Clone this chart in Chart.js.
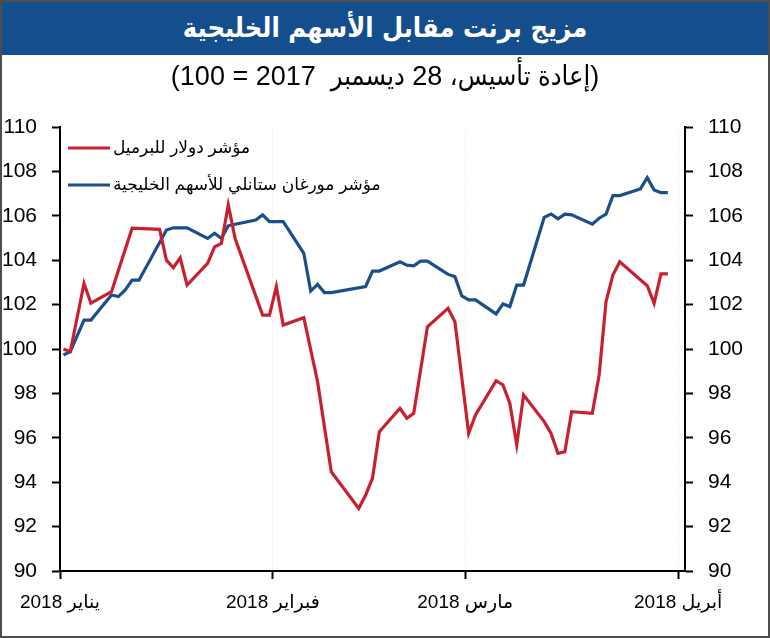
<!DOCTYPE html>
<html>
<head>
<meta charset="utf-8">
<script src="https://cdn.jsdelivr.net/npm/chart.js@4.4.1/dist/chart.umd.min.js"></script>
<style>
  body { margin: 0; background: #fff; }
  #wrap { position: relative; width: 770px; height: 638px; }
  #chart { position: absolute; left: 0; top: 0; }
  #banner { position: absolute; left: 0; top: 2px; width: 770px; height: 53px; background: #144e8c;
    color: #fff; font: bold 27px "DejaVu Sans Condensed", "DejaVu Sans", sans-serif; text-align: center; line-height: 52px; }
  #sub { position: absolute; left: 0; top: 60px; width: 770px; text-align: center; color: #000;
    font: 27px "Liberation Sans", "DejaVu Sans Condensed", sans-serif; white-space: pre; }
  #frame { position: absolute; left: 0; top: 0; width: 770px; height: 638px; box-sizing: border-box;
    border: 2px solid #4d4d4d; pointer-events: none; }
</style>
</head>
<body>
<div id="wrap">
  <canvas id="chart" width="770" height="638" dir="rtl"></canvas>
  <div id="banner" dir="rtl">مزيج برنت مقابل الأسهم الخليجية</div>
  <div id="sub" dir="rtl">(إعادة تأسيس، 28 ديسمبر  2017 = 100)</div>
  <div id="frame"></div>
</div>
<script>
// days counted from 1 Jan 2018 (0 = 1 Jan)
const monthStarts = [0, 31, 59, 90];
const monthLabels = ['يناير 2018', 'فبراير 2018', 'مارس 2018', 'أبريل 2018'];
const seriesNames = ['مؤشر دولار للبرميل', 'مؤشر مورغان ستانلي للأسهم الخليجية'];

const brentDays = [0, 1, 3, 4, 7, 10, 14, 15, 16, 17, 18, 21, 22, 23, 24, 25, 29, 30, 31, 32, 35, 37, 39, 43, 44, 45, 46,
  49, 50, 51, 53, 56, 57, 59, 60, 63, 64, 65, 66, 67, 70, 71, 72, 73, 74, 77, 78, 79, 80, 81, 85, 86, 87, 88];
const brentValues = [100.0, 99.88, 102.96, 102.06, 102.58, 105.44, 105.39, 104.0, 103.66, 104.11, 102.88, 103.86, 104.6,
  104.76, 106.49, 104.98, 101.53, 101.53, 102.81, 101.08, 101.41, 98.53, 94.47, 92.82, 93.42, 94.18, 96.27,
  97.33, 96.88, 97.1, 101.0, 101.83, 101.23, 96.2, 97.03, 98.57, 98.38, 97.55, 95.68, 97.93, 96.73, 96.2, 95.3,
  95.37, 97.18, 97.1, 98.83, 102.13, 103.33, 103.93, 102.85, 102.06, 103.38, 103.38];

const gccDays = [0, 1, 3, 4, 7, 8, 9, 10, 11, 15, 16, 18, 21, 22, 23, 24, 25, 28, 29, 30, 32, 35, 36, 37, 38, 39, 44, 45,
  46, 49, 50, 51, 52, 53, 56, 57, 58, 59, 60, 63, 64, 65, 66, 67, 70, 71, 72, 73, 74, 77, 78, 79, 80, 81, 84, 85, 86, 87, 88];
const gccValues = [99.73, 99.88, 101.3, 101.3, 102.43, 102.36, 102.66, 103.1, 103.1, 105.36, 105.46, 105.46, 104.98,
  105.21, 104.98, 105.55, 105.62, 105.81, 106.04, 105.74, 105.74, 104.31, 102.61, 102.91, 102.54, 102.54, 102.81,
  103.51, 103.51, 103.93, 103.78, 103.75, 103.96, 103.96, 103.36, 103.26, 102.39, 102.21, 102.21, 101.58, 102.03,
  101.91, 102.88, 102.88, 105.93, 106.08, 105.86, 106.07, 106.04, 105.62, 105.89, 106.07, 106.91, 106.91, 107.21,
  107.72, 107.16, 107.04, 107.04];

const yTicks = [90, 92, 94, 96, 98, 100, 102, 104, 106, 108, 110];

function toPoints(days, values) {
    // points sit in the middle of their day
    return days.map(function (d, i) { return {x: d + 0.5, y: values[i]}; });
}

const fontFamily = '"Liberation Sans", "DejaVu Sans", sans-serif';
const tickFont = {family: fontFamily, size: 21};

// legend drawn inside the plot, line sample on the left and text after it
const insideLegend = {
    id: 'insideLegend',
    afterDatasetsDraw: function (chart) {
        let ctx = chart.ctx;
        let area = chart.chartArea;
        ctx.save();
        chart.data.datasets.forEach(function (ds, i) {
            let y = area.top + 21 + i * 37;
            ctx.strokeStyle = ds.borderColor;
            ctx.lineWidth = 3;
            ctx.beginPath();
            ctx.moveTo(area.left + 8, y);
            ctx.lineTo(area.left + 50, y);
            ctx.stroke();
            ctx.fillStyle = '#000';
            ctx.font = '17px ' + fontFamily;
            ctx.textAlign = 'left';
            ctx.textBaseline = 'middle';
            ctx.fillText(ds.label, area.left + 53, y);
        });
        ctx.restore();
    }
};

function yAxis(position, width) {
    return {
        type: 'linear',
        position: position,
        min: 90,
        max: 110,
        afterBuildTicks: function (s) { s.ticks = yTicks.map(function (v) { return {value: v}; }); },
        afterFit: function (s) { s.width = width; },
        ticks: {color: '#000', font: tickFont, padding: 15},
        grid: {drawOnChartArea: false, tickLength: 8, tickColor: '#000', tickWidth: 2},
        border: {color: '#000', width: 2}
    };
}

new Chart(document.getElementById('chart'), {
    type: 'line',
    data: {
        datasets: [{
            label: seriesNames[0],
            data: toPoints(brentDays, brentValues),
            borderColor: '#c8202f',
            backgroundColor: '#c8202f',
            borderWidth: 3.2,
            pointRadius: 0,
            tension: 0,
            yAxisID: 'y'
        }, {
            label: seriesNames[1],
            data: toPoints(gccDays, gccValues),
            borderColor: '#1a4f8c',
            backgroundColor: '#1a4f8c',
            borderWidth: 3.2,
            pointRadius: 0,
            tension: 0,
            yAxisID: 'y'
        }]
    },
    options: {
        responsive: false,
        animation: false,
        layout: {padding: {top: 127, left: 0, right: 0, bottom: 0}},
        plugins: {
            legend: {display: false},
            tooltip: {enabled: false}
        },
        scales: {
            x: {
                type: 'linear',
                min: 0,
                max: 91,
                afterBuildTicks: function (s) { s.ticks = monthStarts.map(function (v) { return {value: v}; }); },
                afterFit: function (s) { s.height = 67; },
                ticks: {
                    color: '#000',
                    font: {family: fontFamily, size: 19},
                    padding: 12,
                    maxRotation: 0,
                    autoSkip: false,
                    callback: function (v) { return monthLabels[monthStarts.indexOf(v)]; }
                },
                grid: {color: '#e2e2e2', tickColor: '#000', tickLength: 8, tickWidth: 2, lineWidth: 1},
                border: {color: '#000', width: 2, dash: [1, 2]}
            },
            y: yAxis('left', 60),
            y2: yAxis('right', 85)
        }
    },
    plugins: [insideLegend]
});
</script>
</body>
</html>
